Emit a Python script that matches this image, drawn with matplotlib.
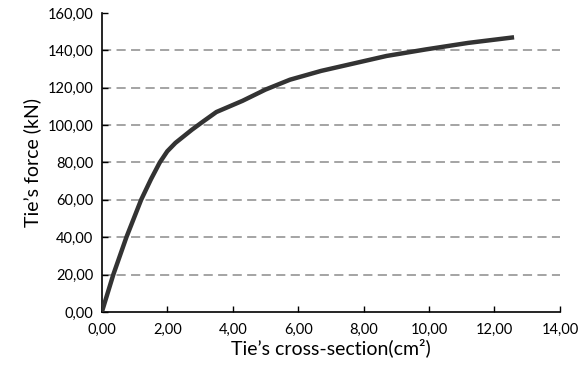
import matplotlib.pyplot as plt
from matplotlib.ticker import FuncFormatter

# tie cross-section (cm2) vs tie force (kN)
section = [0, 0.35, 0.75, 1.2, 1.5, 1.77, 2.0, 2.25, 2.5, 2.75, 3.1, 3.5, 3.9, 4.3,
           5.0, 5.75, 6.7, 7.7, 8.7, 9.9, 11.2, 12.6]
force = [0, 20, 40, 60, 71, 80, 86, 90.5, 94, 97.5, 102, 107, 110, 113,
         119, 124.3, 129, 133, 137, 140.5, 144, 147]

plt.rcParams['font.family'] = ['Lato', 'DejaVu Sans']

fig = plt.figure(figsize=(5.82, 3.71), dpi=100)
ax = fig.add_axes([0.175, 0.159, 0.787, 0.806])

ax.plot(section, force, color='#333333', linewidth=3.2, solid_capstyle='butt', zorder=3)

ax.set_xlim(0, 14)
ax.set_ylim(0, 160)
ax.set_xticks(range(0, 15, 2))
ax.set_yticks(range(0, 161, 20))

comma = FuncFormatter(lambda v, p: f"{v:.2f}".replace('.', ','))
ax.xaxis.set_major_formatter(comma)
ax.yaxis.set_major_formatter(comma)

for g in range(20, 160, 20):
    ax.axhline(g, color='#8c8c8c', linewidth=1.1, dashes=(6, 3.5), zorder=1)

for side in ['top', 'right']:
    ax.spines[side].set_visible(False)
for side in ['left', 'bottom']:
    ax.spines[side].set_linewidth(1.2)

ax.tick_params(direction='in', length=4, width=1, labelsize=10.5, colors='black', pad=6)
ax.tick_params(axis='x', pad=8)

ax.set_xlabel('Tie\u2019s cross-section(cm\u00b2)', fontsize=14, labelpad=1)
ax.set_ylabel('Tie\u2019s force (kN)', fontsize=14, labelpad=5)

fig.savefig('out.png', dpi=100)
